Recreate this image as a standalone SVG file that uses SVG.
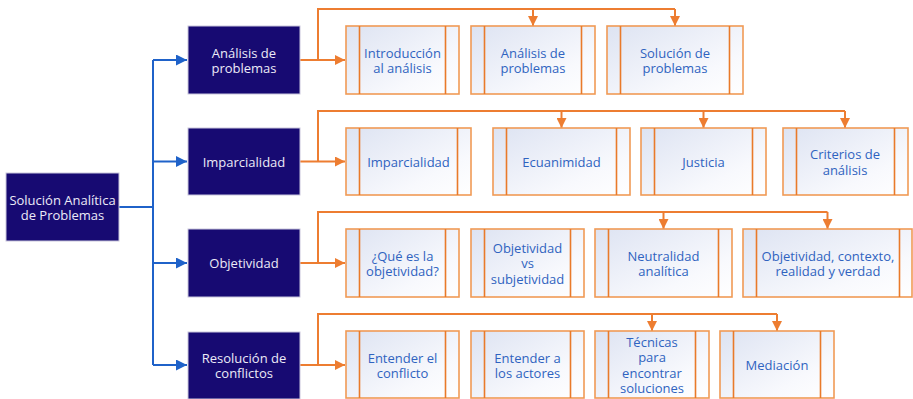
<svg xmlns="http://www.w3.org/2000/svg" width="913" height="399" viewBox="0 0 913 399">
<style>
  .root, .cat { fill: #170a72; stroke: #c9c6dc; stroke-width: 1; }
  .ct { font-family: "Open Sans", "Liberation Sans", sans-serif; font-size: 13px; fill: #ecebf7; text-anchor: middle; dominant-baseline: central; }
  .box { fill: url(#g); stroke: #f09a55; stroke-width: 1.6; }
  .in { stroke: #e97a2a; stroke-width: 1.6; }
  .t { font-family: "Open Sans", "Liberation Sans", sans-serif; font-size: 13px; fill: #2f63c0; text-anchor: middle; dominant-baseline: central; }
  .oc { fill: none; stroke: #ed7d31; stroke-width: 2; }
  .bc { fill: none; stroke: #1f62c9; stroke-width: 2; }
</style>
<defs>
  <linearGradient id="g" x1="0" y1="0" x2="1" y2="1">
    <stop offset="0" stop-color="#dde3f2"/>
    <stop offset="0.7" stop-color="#f8f9fd"/>
    <stop offset="1" stop-color="#ffffff"/>
  </linearGradient>
  <marker id="ao" markerUnits="userSpaceOnUse" markerWidth="10" markerHeight="10" refX="10" refY="5" orient="auto" viewBox="0 0 10 10">
    <path d="M0,0 L10,5 L0,10 z" fill="#ed7d31"/>
  </marker>
  <marker id="ab" markerUnits="userSpaceOnUse" markerWidth="11" markerHeight="11" refX="11" refY="5.5" orient="auto" viewBox="0 0 11 11">
    <path d="M0,0 L11,5.5 L0,11 z" fill="#1f62c9"/>
  </marker>
</defs>

<g id="connectors">
  <path class="bc" d="M119,207 H153"/>
  <path class="bc" d="M153,60 V365"/>
  <path class="bc" d="M153,60 H187" marker-end="url(#ab)"/>
  <path class="bc" d="M153,161.5 H187" marker-end="url(#ab)"/>
  <path class="bc" d="M153,263 H187" marker-end="url(#ab)"/>
  <path class="bc" d="M153,365 H187" marker-end="url(#ab)"/>
  <path class="oc" d="M300,60 H345" marker-end="url(#ao)"/>
  <path class="oc" d="M318,60 V9 H675"/>
  <path class="oc" d="M533,9 V26" marker-end="url(#ao)"/>
  <path class="oc" d="M675,9 V26" marker-end="url(#ao)"/>
  <path class="oc" d="M300,161.5 H345" marker-end="url(#ao)"/>
  <path class="oc" d="M318,161.5 V111 H845"/>
  <path class="oc" d="M561.5,111 V128" marker-end="url(#ao)"/>
  <path class="oc" d="M703.5,111 V128" marker-end="url(#ao)"/>
  <path class="oc" d="M845,111 V128" marker-end="url(#ao)"/>
  <path class="oc" d="M300,263 H345" marker-end="url(#ao)"/>
  <path class="oc" d="M318,263 V212 H827.5"/>
  <path class="oc" d="M663.5,212 V229" marker-end="url(#ao)"/>
  <path class="oc" d="M827.5,212 V229" marker-end="url(#ao)"/>
  <path class="oc" d="M300,365 H345" marker-end="url(#ao)"/>
  <path class="oc" d="M318,365 V314 H777"/>
  <path class="oc" d="M652,314 V331" marker-end="url(#ao)"/>
  <path class="oc" d="M777,314 V331" marker-end="url(#ao)"/>
</g>

<g id="root">
  <rect class="root" x="6" y="173" width="113" height="68"/>
  <text class="ct" x="62.5" y="199.5">Solución Analítica<tspan x="62.5" dy="15">de Problemas</tspan></text>
</g>

<g id="cat-analisis">
  <rect class="cat" x="188" y="26" width="112" height="68"/>
  <text class="ct" x="244" y="52.5">Análisis de<tspan x="244" dy="15">problemas</tspan></text>
</g>
<g id="cat-imparcialidad">
  <rect class="cat" x="188" y="128" width="112" height="67"/>
  <text class="ct" x="244" y="161.5">Imparcialidad</text>
</g>
<g id="cat-objetividad">
  <rect class="cat" x="188" y="229" width="112" height="68"/>
  <text class="ct" x="244" y="263">Objetividad</text>
</g>
<g id="cat-resolucion">
  <rect class="cat" x="188" y="332" width="112" height="67"/>
  <text class="ct" x="244" y="357.5">Resolución de<tspan x="244" dy="15">conflictos</tspan></text>
</g>

<g id="r1a">
  <rect class="box" x="346" y="26" width="113" height="68"/>
  <path class="in" d="M359.5,26 V94 M445.5,26 V94"/>
  <text class="t" x="402.5" y="52.5">Introducción<tspan x="402.5" dy="15">al análisis</tspan></text>
</g>
<g id="r1b">
  <rect class="box" x="471" y="26" width="124" height="68"/>
  <path class="in" d="M484.5,26 V94 M581.5,26 V94"/>
  <text class="t" x="533" y="52.5">Análisis de<tspan x="533" dy="15">problemas</tspan></text>
</g>
<g id="r1c">
  <rect class="box" x="607" y="26" width="136" height="68"/>
  <path class="in" d="M620.5,26 V94 M729.5,26 V94"/>
  <text class="t" x="675" y="52.5">Solución de<tspan x="675" dy="15">problemas</tspan></text>
</g>

<g id="r2a">
  <rect class="box" x="346" y="128" width="125" height="67"/>
  <path class="in" d="M359.5,128 V195 M457.5,128 V195"/>
  <text class="t" x="408.5" y="161.5">Imparcialidad</text>
</g>
<g id="r2b">
  <rect class="box" x="493" y="128" width="137" height="67"/>
  <path class="in" d="M506.5,128 V195 M616.5,128 V195"/>
  <text class="t" x="561.5" y="161.5">Ecuanimidad</text>
</g>
<g id="r2c">
  <rect class="box" x="641" y="128" width="125" height="67"/>
  <path class="in" d="M654.5,128 V195 M752.5,128 V195"/>
  <text class="t" x="703.5" y="161.5">Justicia</text>
</g>
<g id="r2d">
  <rect class="box" x="783" y="128" width="125" height="67"/>
  <path class="in" d="M796.5,128 V195 M894.5,128 V195"/>
  <text class="t" x="845" y="153.5">Criterios de<tspan x="845" dy="16">análisis</tspan></text>
</g>

<g id="r3a">
  <rect class="box" x="346" y="229" width="113" height="68"/>
  <path class="in" d="M359.5,229 V297 M445.5,229 V297"/>
  <text class="t" x="402.5" y="255.5">¿Qué es la<tspan x="402.5" dy="15">objetividad?</tspan></text>
</g>
<g id="r3b">
  <rect class="box" x="471" y="229" width="113" height="68"/>
  <path class="in" d="M484.5,229 V297 M570.5,229 V297"/>
  <text class="t" x="527.5" y="247.5">Objetividad<tspan x="527.5" dy="15.5">vs</tspan><tspan x="527.5" dy="15.5">subjetividad</tspan></text>
</g>
<g id="r3c">
  <rect class="box" x="595" y="229" width="137" height="68"/>
  <path class="in" d="M608.5,229 V297 M718.5,229 V297"/>
  <text class="t" x="663.5" y="255.5">Neutralidad<tspan x="663.5" dy="15">analítica</tspan></text>
</g>
<g id="r3d">
  <rect class="box" x="743" y="229" width="169" height="68"/>
  <path class="in" d="M756.5,229 V297 M899.5,229 V297"/>
  <text class="t" x="828" y="255.5">Objetividad, contexto,<tspan x="828" dy="15">realidad y verdad</tspan></text>
</g>

<g id="r4a">
  <rect class="box" x="346" y="331" width="113" height="67"/>
  <path class="in" d="M359.5,331 V398 M445.5,331 V398"/>
  <text class="t" x="402.5" y="357.5">Entender el<tspan x="402.5" dy="15">conflicto</tspan></text>
</g>
<g id="r4b">
  <rect class="box" x="471" y="331" width="113" height="67"/>
  <path class="in" d="M484.5,331 V398 M570.5,331 V398"/>
  <text class="t" x="527.5" y="357.5">Entender a<tspan x="527.5" dy="15">los actores</tspan></text>
</g>
<g id="r4c">
  <rect class="box" x="595" y="331" width="114" height="67"/>
  <path class="in" d="M608.5,331 V398 M695.5,331 V398"/>
  <text class="t" x="652" y="342">Técnicas<tspan x="652" dy="15.3">para</tspan><tspan x="652" dy="15.3">encontrar</tspan><tspan x="652" dy="15.4">soluciones</tspan></text>
</g>
<g id="r4d">
  <rect class="box" x="720" y="331" width="114" height="67"/>
  <path class="in" d="M733.5,331 V398 M820.5,331 V398"/>
  <text class="t" x="777" y="365">Mediación</text>
</g>
</svg>
